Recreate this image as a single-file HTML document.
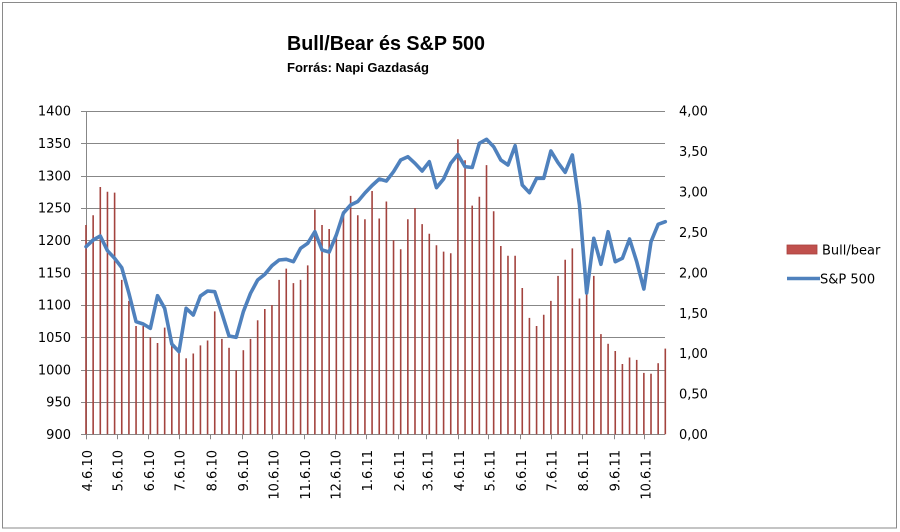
<!DOCTYPE html>
<html>
<head>
<meta charset="utf-8">
<style>
html,body{margin:0;padding:0;background:#fff;}
svg{display:block;}
</style>
</head>
<body>
<svg id="c" width="900" height="532" viewBox="0 0 900 532" xmlns="http://www.w3.org/2000/svg">
<rect x="0" y="0" width="900" height="532" fill="#fff"/>
<rect x="2.5" y="2.5" width="894" height="525.5" fill="#fff" stroke="#8a8a8a" stroke-width="1"/>
<text x="287" y="50" font-family="Liberation Sans, sans-serif" font-weight="bold" font-size="20" textLength="198" lengthAdjust="spacingAndGlyphs" fill="#000">Bull/Bear és S&amp;P 500</text>
<text x="287" y="72" font-family="Liberation Sans, sans-serif" font-weight="bold" font-size="13" textLength="142" lengthAdjust="spacingAndGlyphs" fill="#000">Forrás: Napi Gazdaság</text>
<g id="grid"></g>
<g id="bars"></g>
<g id="line"></g>
<g id="labels" font-family="DejaVu Sans, sans-serif" font-size="13" fill="#000"></g>
<rect x="787" y="245" width="30" height="9" fill="#C0504D" stroke="#A8403D" stroke-width="0.8"/>
<text x="822" y="254.5" font-family="DejaVu Sans, sans-serif" font-size="13" fill="#000">Bull/bear</text>
<line x1="787" y1="278.5" x2="820" y2="278.5" stroke="#4F81BD" stroke-width="3.5"/>
<text x="820" y="283.5" font-family="DejaVu Sans, sans-serif" font-size="13" fill="#000">S&amp;P 500</text>
</svg>
<script>
(function(){
var NS="http://www.w3.org/2000/svg";
function el(p,n,a,t){var e=document.createElementNS(NS,n);for(var k in a)e.setAttribute(k,a[k]);if(t!==undefined)e.textContent=t;p.appendChild(e);return e;}
var g=document.getElementById('grid'),bars=document.getElementById('bars'),ln=document.getElementById('line'),lab=document.getElementById('labels');
var top=111,bot=434.3,L=86,R=665;
var step=(bot-top)/10;
var lefts=["1400","1350","1300","1250","1200","1150","1100","1050","1000","950","900"];
var rights=["4,00","3,50","3,00","2,50","2,00","1,50","1,00","0,50","0,00"];
for(var i=0;i<=10;i++){
  var y=Math.round(top+i*step)+0.5;
  el(g,'line',{x1:81,y1:y,x2:R,y2:y,stroke:'#878787','stroke-width':1});
  el(lab,'text',{x:71,y:(top+i*step+4.7).toFixed(1),'text-anchor':'end'},lefts[i]);
}
var rstep=(bot-top)/8;
for(var i=0;i<=8;i++){
  el(lab,'text',{x:679,y:(top+i*rstep+4.7).toFixed(1)},rights[i]);
}
el(g,'line',{x1:86.5,y1:top,x2:86.5,y2:bot+5,stroke:'#878787','stroke-width':1});
var days=[0,30,61,91,122,153,183,214,244,275,306,334,365,395,426,456,487,518,548];
var mlab=["4.6.10","5.6.10","6.6.10","7.6.10","8.6.10","9.6.10","10.6.10","11.6.10","12.6.10","1.6.11","2.6.11","3.6.11","4.6.11","5.6.11","6.6.11","7.6.11","8.6.11","9.6.11","10.6.11"];
for(var i=0;i<days.length;i++){
  var x=86+days[i]*1.0188;
  var xr=Math.round(x)+0.5;
  el(g,'line',{x1:xr,y1:bot,x2:xr,y2:bot+5,stroke:'#878787','stroke-width':1});
  el(lab,'text',{transform:'translate('+(x+6).toFixed(1)+',450) rotate(-90)','text-anchor':'end'},mlab[i]);
}
var b=[2.59,2.71,3.06,3.00,2.99,1.91,1.65,1.34,1.34,1.20,1.13,1.32,1.10,1.05,0.94,1.00,1.10,1.16,1.52,1.18,1.07,0.79,1.04,1.18,1.41,1.55,1.60,1.91,2.05,1.87,1.91,2.09,2.78,2.59,2.54,2.45,2.70,2.95,2.71,2.66,3.01,2.67,2.88,2.40,2.29,2.66,2.80,2.60,2.48,2.34,2.26,2.24,3.65,3.39,2.83,2.94,3.33,2.76,2.33,2.21,2.21,1.81,1.44,1.34,1.48,1.65,1.96,2.16,2.30,1.68,1.75,1.96,1.24,1.12,1.03,0.87,0.95,0.92,0.76,0.75,0.88,1.06];
var s=[246.7,240,236,250.7,258.3,267.7,293.3,321.7,324,328.3,295.7,308.3,344,351.7,308.3,315,296,291,291.7,313.3,336,337.3,311.7,293.3,280,274.3,265.7,260,259.3,261.7,248.3,243.3,231.7,250,252,235,213,205,201.5,193,185.5,179,181,171.7,160,156.7,163.3,171,161.7,187.7,179,163.3,154.5,166.7,167.5,143.3,139.3,146.7,160,165,145.7,185,192.7,178.3,178.3,151,162.7,172.3,155,205,293,238.3,264.3,231.7,261.7,258.3,239,261.7,289,241.7,224.3,221.7];
var bs=80.83,dx=7.152;
for(var i=0;i<b.length;i++){
  var x=L+i*dx;
  el(bars,'line',{x1:x.toFixed(2),y1:bot,x2:x.toFixed(2),y2:(bot-b[i]*bs).toFixed(1),stroke:'#A3433E','stroke-width':1.6});
}
el(g,'line',{x1:81,y1:bot+0.2,x2:R,y2:bot+0.2,stroke:'#878787','stroke-width':1});
var pts=[];
for(var i=0;i<s.length;i++){pts.push((L+i*dx).toFixed(2)+','+s[i]);}
el(ln,'polyline',{points:pts.join(' '),fill:'none',stroke:'#4F81BD','stroke-width':3.6,'stroke-linejoin':'round','stroke-linecap':'round'});
})();
</script>
</body>
</html>
